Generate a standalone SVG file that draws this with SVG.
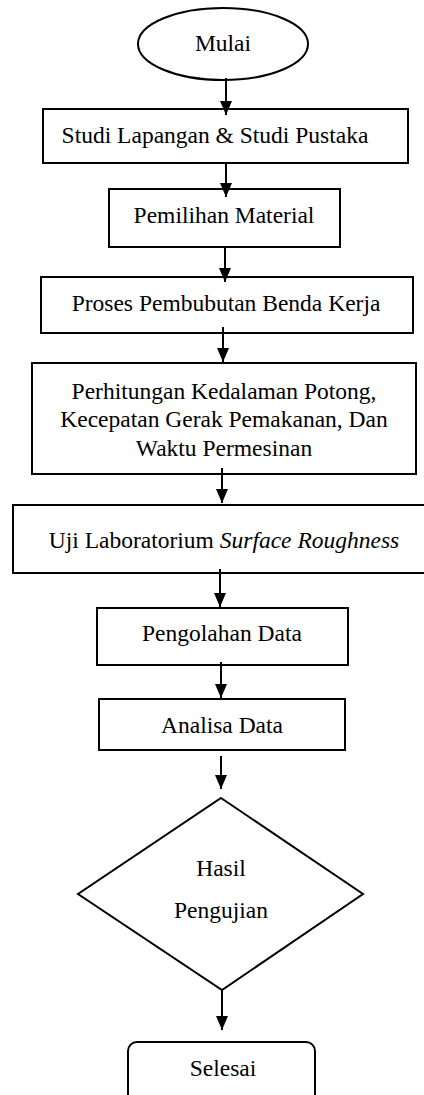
<svg xmlns="http://www.w3.org/2000/svg" width="424" height="1095" viewBox="0 0 424 1095">
<style>
.shape{fill:#fff;stroke:#000;stroke-width:2}
.t{font-family:"Liberation Serif","Times New Roman",serif;font-size:23.5px;fill:#000;text-anchor:middle}
.c{stroke:#000;stroke-width:2;fill:none}
</style>
<defs>
<marker id="ah" markerUnits="userSpaceOnUse" markerWidth="14" markerHeight="12" refX="14" refY="6" orient="auto" viewBox="0 0 14 12">
<path d="M0,0 L14,6 L0,12 z" fill="#000"/>
</marker>
</defs>
<rect width="424" height="1095" fill="#fff"/>
<g id="n-mulai">
<ellipse class="shape" cx="223" cy="44" rx="85" ry="36"/>
<text class="t" x="223" y="51">Mulai</text>
</g>
<g id="n-studi">
<rect class="shape" x="43" y="109" width="365" height="54"/>
<text class="t" x="215" y="143">Studi Lapangan &amp; Studi Pustaka</text>
</g>
<g id="n-material">
<rect class="shape" x="109" y="189" width="231" height="58"/>
<text class="t" x="224" y="223">Pemilihan Material</text>
</g>
<g id="n-pembubutan">
<rect class="shape" x="41" y="277" width="372" height="56"/>
<text class="t" x="226" y="311">Proses Pembubutan Benda Kerja</text>
</g>
<g id="n-perhitungan">
<rect class="shape" x="32" y="363" width="384" height="111"/>
<text class="t" x="224" y="399">Perhitungan Kedalaman Potong,</text>
<text class="t" x="224" y="427">Kecepatan Gerak Pemakanan, Dan</text>
<text class="t" x="224" y="456">Waktu Permesinan</text>
</g>
<g id="n-uji">
<rect class="shape" x="13" y="505" width="420" height="68"/>
<text class="t" x="224" y="548">Uji Laboratorium <tspan font-style="italic">Surface Roughness</tspan></text>
</g>
<g id="n-pengolahan">
<rect class="shape" x="97" y="608" width="251" height="57"/>
<text class="t" x="222" y="641">Pengolahan Data</text>
</g>
<g id="n-analisa">
<rect class="shape" x="99" y="699" width="246" height="51"/>
<text class="t" x="222" y="733">Analisa Data</text>
</g>
<g id="n-hasil">
<polygon class="shape" points="221,798 363,894 222,990 78,894"/>
<text class="t" x="221" y="876">Hasil</text>
<text class="t" x="221" y="918">Pengujian</text>
</g>
<g id="n-selesai">
<rect class="shape" x="128" y="1042" width="187" height="70" rx="9" ry="9"/>
<text class="t" x="223" y="1076">Selesai</text>
</g>
<g id="connectors">
<line class="c" x1="226" y1="78" x2="226" y2="115" marker-end="url(#ah)"/>
<line class="c" x1="226" y1="163" x2="226" y2="197" marker-end="url(#ah)"/>
<line class="c" x1="225" y1="247" x2="225" y2="282" marker-end="url(#ah)"/>
<line class="c" x1="223" y1="327" x2="223" y2="362" marker-end="url(#ah)"/>
<line class="c" x1="222" y1="468" x2="222" y2="503" marker-end="url(#ah)"/>
<line class="c" x1="220" y1="569" x2="220" y2="607" marker-end="url(#ah)"/>
<line class="c" x1="221" y1="662" x2="221" y2="698" marker-end="url(#ah)"/>
<line class="c" x1="221" y1="756" x2="221" y2="789" marker-end="url(#ah)"/>
<line class="c" x1="222" y1="990" x2="222" y2="1030" marker-end="url(#ah)"/>
</g>
</svg>
